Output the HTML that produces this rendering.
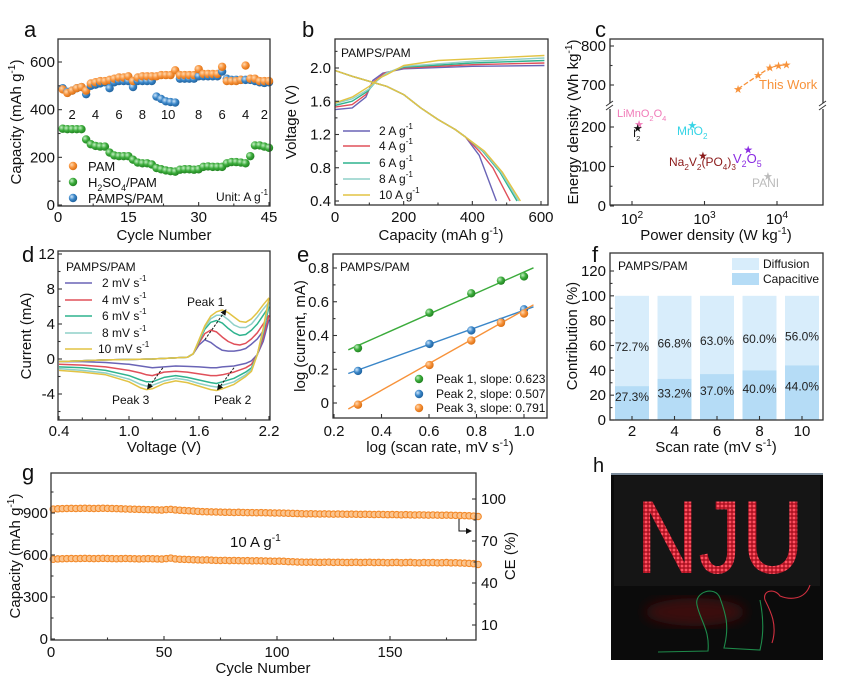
<!DOCTYPE html>
<html><head><meta charset="utf-8">
<style>
html,body{margin:0;padding:0;background:#fff;}
svg{display:block;font-family:"Liberation Sans",Arial,sans-serif;}
</style></head>
<body>
<svg id="fig" width="846" height="685" viewBox="0 0 846 685" xmlns="http://www.w3.org/2000/svg">
<defs>
<radialGradient id="gO" cx="0.35" cy="0.35" r="0.7"><stop offset="0" stop-color="#ffd9b0"/><stop offset="0.5" stop-color="#f7923a"/><stop offset="1" stop-color="#d86d10"/></radialGradient>
<radialGradient id="gG" cx="0.35" cy="0.35" r="0.7"><stop offset="0" stop-color="#c4f0c4"/><stop offset="0.5" stop-color="#3bab3b"/><stop offset="1" stop-color="#1f7f1f"/></radialGradient>
<radialGradient id="gB" cx="0.35" cy="0.35" r="0.7"><stop offset="0" stop-color="#cfe6fa"/><stop offset="0.5" stop-color="#3a86c8"/><stop offset="1" stop-color="#1d5e99"/></radialGradient>
<marker id="arr" markerWidth="6" markerHeight="6" refX="5" refY="3" orient="auto"><path d="M0,0 L6,3 L0,6 z" fill="#111"/></marker>
<filter id="blur"><feGaussianBlur stdDeviation="6"/></filter>
<pattern id="led" width="4" height="4" patternUnits="userSpaceOnUse"><rect width="4" height="4" fill="#b01424"/><circle cx="2" cy="2" r="1.4" fill="#ff5060"/></pattern>
</defs>
</svg>
<script>
// ---------- DATA ----------
const aCycles = Array.from({length:45},(_,i)=>i+1);
const aPAM = [485,470,480,490,495,480,510,515,520,520,525,530,535,535,540,520,535,540,540,540,540,545,545,545,565,545,545,545,545,570,550,550,550,550,580,520,520,520,525,585,530,530,520,520,520];
const aPAMPS = [490,475,480,490,495,465,500,505,510,515,490,515,520,520,520,495,520,520,520,520,455,445,435,432,430,530,530,530,530,540,540,540,540,540,560,530,525,525,525,525,525,520,515,512,515];
const aH2SO4 = [320,318,318,318,318,275,255,248,245,245,220,208,205,205,205,190,178,175,175,170,155,150,145,142,140,148,150,150,148,150,160,162,160,160,160,175,180,180,178,175,205,250,250,245,240];
const aRateLabels = ["2","4","6","8","10","8","6","4","2"];
const aRateCycles = [3,8,13,18,23.5,30,35,40,44];
const bRates = ["2","4","6","8","10"];
const bChargeCap = [[0,50,90,110,140,200,400,610],[0,50,90,115,145,200,400,610],[0,50,95,120,150,200,400,610],[0,50,100,125,150,200,400,610],[0,50,100,130,150,200,300,610]];
const bChargeV = [[1.50,1.52,1.65,1.85,1.94,1.99,2.02,2.03],[1.53,1.56,1.68,1.84,1.94,2.00,2.04,2.06],[1.55,1.60,1.72,1.84,1.94,2.01,2.06,2.09],[1.57,1.63,1.75,1.86,1.94,2.02,2.08,2.12],[1.58,1.65,1.78,1.88,1.92,2.03,2.09,2.15]];
const bDisCap = [[0,50,100,150,200,250,300,350,380,420,470],[0,50,100,150,200,250,300,350,380,420,460,510],[0,50,100,150,200,250,300,350,380,430,480,530],[0,50,100,150,200,250,300,350,380,432,483,535],[0,50,100,150,200,250,300,350,380,435,487,540]];
const bDisV = [[1.97,1.9,1.84,1.78,1.68,1.52,1.38,1.26,1.17,0.95,0.4],[1.97,1.9,1.84,1.78,1.68,1.52,1.38,1.26,1.17,1.0,0.8,0.4],[1.97,1.9,1.84,1.78,1.68,1.52,1.38,1.26,1.17,1.0,0.75,0.4],[1.97,1.9,1.84,1.78,1.68,1.52,1.38,1.26,1.17,1.0,0.75,0.4],[1.97,1.9,1.84,1.78,1.68,1.52,1.38,1.26,1.17,1.0,0.75,0.4]];
const cWorkP = [2900,5500,8000,10500,13500];
const cWorkE = [690,725,745,750,752];
const cRefNames = ["LiMnO2O4","I2","MnO2","Na2V2(PO4)3","V2O5","PANI"];
const cRefP = [125,120,680,950,4000,7500];
const cRefE = [207,197,205,128,143,75];
const dVup = [0.4,0.8,1.2,1.5,1.55,1.6,1.65,1.7,1.75,1.8,1.85,1.9,1.95,2.0,2.05,2.1,2.15,2.2];
const dIup = [
 [-0.3,-0.1,0,0.2,0.6,1.6,2.2,1.9,1.4,1.0,0.9,0.9,1.0,1.2,1.7,2.3,3.2,4.5],
 [-0.3,-0.1,0,0.2,0.6,1.8,2.9,3.3,3.1,2.5,2.0,1.7,1.6,1.8,2.3,3.0,4.0,5.0],
 [-0.3,-0.1,0,0.2,0.6,2.0,3.4,4.2,4.4,4.1,3.5,3.0,2.7,2.8,3.3,4.0,5.0,6.0],
 [-0.3,-0.1,0,0.2,0.6,2.1,3.6,4.6,5.0,5.0,4.5,3.9,3.6,3.6,4.0,4.8,5.7,6.5],
 [-0.3,-0.1,0,0.2,0.6,2.2,3.8,4.9,5.4,5.6,5.3,4.8,4.3,4.2,4.6,5.3,6.2,7.0]];
const dVdn = [2.2,2.15,2.1,2.05,2.0,1.9,1.8,1.75,1.7,1.6,1.5,1.4,1.3,1.2,1.15,1.1,1.0,0.8,0.6,0.4];
const dIdn = [
 [4.5,2.0,0.5,-0.2,-0.5,-0.8,-0.9,-1.0,-1.0,-0.9,-0.85,-0.8,-0.9,-1.0,-0.9,-0.8,-0.6,-0.4,-0.3,-0.3],
 [5.0,2.5,0.5,-0.6,-1.0,-1.5,-1.8,-1.9,-1.9,-1.7,-1.5,-1.4,-1.5,-1.9,-1.8,-1.6,-1.3,-0.9,-0.7,-0.6],
 [6.0,3.0,0.5,-1.0,-1.5,-2.2,-2.6,-2.8,-2.7,-2.4,-2.1,-1.9,-2.1,-2.6,-2.6,-2.4,-1.9,-1.3,-1.0,-0.9],
 [6.5,3.2,0.5,-1.2,-1.8,-2.6,-3.0,-3.2,-3.1,-2.8,-2.4,-2.2,-2.5,-3.0,-3.1,-2.9,-2.3,-1.6,-1.3,-1.1],
 [7.0,3.5,0.5,-1.4,-2.0,-2.9,-3.4,-3.6,-3.5,-3.1,-2.7,-2.5,-2.8,-3.4,-3.5,-3.3,-2.6,-1.8,-1.5,-1.3]];
const dRates = ["2","4","6","8","10"];
const eLogRate = [0.301,0.602,0.778,0.903,1.0];
const ePeak1 = [0.325,0.535,0.65,0.725,0.75];
const ePeak2 = [0.19,0.35,0.43,0.48,0.555];
const ePeak3 = [-0.01,0.225,0.37,0.475,0.53];
const eSlopes = [0.623,0.507,0.791];
const eIntercepts = [0.153,0.043,-0.241];
const fRates = ["2","4","6","8","10"];
const fCapacitive = [27.3,33.2,37.0,40.0,44.0];
const gCycles = Array.from({length:95},(_,i)=>1+2*i);
const gCapacity = [570,572,573,574,575,574,575,576,575,574,575,576,575,574,573,574,575,574,573,572,573,574,573,572,571,
574,578,572,570,569,568,566,565,564,565,563,562,561,562,560,561,560,559,560,558,559,558,557,556,555,
556,555,553,552,550,549,548,549,548,547,548,549,547,548,547,546,547,548,546,547,548,546,547,546,545,
546,547,545,546,547,545,544,546,545,546,544,545,546,544,545,543,542,540,538,532];
const gCE = [92.8,93,93.1,93.2,93.3,93.2,93.3,93.4,93.3,93.2,93.3,93.4,93.3,93.2,93.1,93.0,92.9,92.8,92.7,92.6,92.5,92.4,92.3,92.2,92.1,
92.4,92.6,92.2,92.0,91.8,91.6,91.4,91.2,91.0,90.9,90.8,90.7,90.6,90.5,90.5,90.4,90.5,90.4,90.3,90.3,90.2,90.3,90.2,90.1,90.0,
90.0,89.9,89.8,89.7,89.6,89.5,89.4,89.5,89.4,89.3,89.4,89.3,89.2,89.3,89.2,89.1,89.2,89.1,89.0,89.1,89.0,88.9,89.0,88.9,88.8,
88.9,88.8,88.7,88.8,88.7,88.6,88.7,88.6,88.5,88.6,88.5,88.4,88.5,88.4,88.3,88.2,88.1,88.0,87.8,87.5];

// ---------- HELPERS ----------
const svg = document.getElementById('fig');
const NS = 'http://www.w3.org/2000/svg';
function add(p, tag, at, name, inter){
  const el = document.createElementNS(NS, tag);
  for (const k in at) el.setAttribute(k, at[k]);
  
  
  p.appendChild(el);
  return el;
}
function txt(p, x, y, html, size, name, opt){
  opt = opt || {};
  const t = add(p, 'text', {x:x, y:y, 'font-size':size, fill:opt.fill||'#111', 'text-anchor':opt.anchor||'start'}, name);
  if (opt.rot) t.setAttribute('transform', 'rotate(-90 '+x+' '+y+')');
  t.innerHTML = html;
  return t;
}
const SUP = s => '<tspan baseline-shift="6" font-size="0.68em">'+s+'</tspan>';
const SUB = s => '<tspan baseline-shift="-4" font-size="0.68em">'+s+'</tspan>';
function frame(p, x0,y0,x1,y1, name){
  add(p,'rect',{x:x0,y:y0,width:x1-x0,height:y1-y0,fill:'none',stroke:'#333','stroke-width':1.3}, name);
}
function xtick(p, x, yb, len, name){ add(p,'line',{x1:x,y1:yb,x2:x,y2:yb-len,stroke:'#333','stroke-width':1.1}, name); }
function ytick(p, xl, y, len, name){ add(p,'line',{x1:xl,y1:y,x2:xl+len,y2:y,stroke:'#333','stroke-width':1.1}, name); }
function poly(p, xs, ys, fx, fy, stroke, w, name, extra){
  const d = xs.map((v,i)=>(i?'L':'M')+fx(v).toFixed(1)+','+fy(ys[i]).toFixed(1)).join(' ');
  const at = {d:d, fill:'none', stroke:stroke, 'stroke-width':w, 'stroke-linejoin':'round'};
  if (extra) for (const k in extra) at[k]=extra[k];
  return add(p,'path',at,name);
}
function ball(p, x, y, r, grad, name){ add(p,'circle',{cx:x,cy:y,r:r,fill:'url(#'+grad+')'}, name); }

// ---------- PANEL A ----------
(function(){
  const g = add(svg,'g',{},'panel-a');
  const xA = v => 58 + v/45*211, yA = v => 205 - v/600*143;
  txt(g, 24, 37, 'a', 22, 'panel-label-a');
  aCycles.forEach((c,i)=>{
    ball(g, xA(c), yA(aH2SO4[i]), 4.2, 'gG', 'point-h2so4');
    ball(g, xA(c), yA(aPAMPS[i]), 4.2, 'gB', 'point-pamps');
    ball(g, xA(c), yA(aPAM[i]), 4.2, 'gO', 'point-pam');
  });
  frame(g,58,39,270,206,'plot-frame-a');
  [0,15,30,45].forEach(v=>{ xtick(g,xA(v),206,4,'x-tick'); txt(g,xA(v),222,v,15,'x-tick-label',{anchor:'middle'}); });
  [7.5,22.5,37.5].forEach(v=>xtick(g,xA(v),206,2.5,'x-minor-tick'));
  [0,200,400,600].forEach(v=>{ ytick(g,58,yA(v),4,'y-tick'); txt(g,55,yA(v)+5,v,15,'y-tick-label',{anchor:'end'}); });
  [100,300,500].forEach(v=>ytick(g,58,yA(v),2.5,'y-minor-tick'));
  aRateLabels.forEach((s,i)=>txt(g,xA(aRateCycles[i]),119,s,13,'rate-label',{anchor:'middle'}));
  txt(g,21,122,'Capacity (mAh g'+SUP('-1')+')',15,'y-axis-title',{anchor:'middle',rot:1});
  txt(g,164,240,'Cycle Number',15,'x-axis-title',{anchor:'middle'});
  [['PAM','gO',166],['H'+SUB('2')+'SO'+SUB('4')+'/PAM','gG',182],['PAMPS/PAM','gB',198]].forEach(l=>{
    ball(g,73,l[2],4.2,l[1],'legend-marker');
    txt(g,88,l[2]+5,l[0],13,'legend-entry');
  });
  txt(g,268,201,'Unit: A g'+SUP('-1'),12,'unit-note',{anchor:'end'});
})();

// ---------- PANEL B ----------
(function(){
  const g = add(svg,'g',{},'panel-b');
  const xB = v => 335 + v/600*206, yB = v => 201 - (v-0.4)/1.6*133;
  const cols = ['#6a64b6','#e0505a','#2fb38e','#8fd0c8','#e2c344'];
  txt(g,302,37,'b',22,'panel-label-b');
  bRates.forEach((r,i)=>{
    poly(g,bChargeCap[i],bChargeV[i],xB,yB,cols[i],1.4,'charge-curve-'+r);
    poly(g,bDisCap[i],bDisV[i],xB,yB,cols[i],1.4,'discharge-curve-'+r);
  });
  frame(g,335,39,548,205,'plot-frame-b');
  [0,200,400,600].forEach(v=>{ xtick(g,xB(v),205,4,'x-tick'); txt(g,xB(v),222,v,15,'x-tick-label',{anchor:'middle'}); });
  [100,300,500].forEach(v=>xtick(g,xB(v),205,2.5,'x-minor-tick'));
  [0.4,0.8,1.2,1.6,2.0].forEach(v=>{ ytick(g,335,yB(v),4,'y-tick'); txt(g,331,yB(v)+5,v.toFixed(1),15,'y-tick-label',{anchor:'end'}); });
  [0.6,1.0,1.4,1.8,2.2].forEach(v=>ytick(g,335,yB(v),2.5,'y-minor-tick'));
  txt(g,341,57,'PAMPS/PAM',12,'series-title');
  [131,146,163,179,195].forEach((y,i)=>{
    add(g,'line',{x1:343,y1:y,x2:370,y2:y,stroke:cols[i],'stroke-width':1.6},'legend-line');
    txt(g,379,y+4,bRates[i]+' A g'+SUP('-1'),12,'legend-entry');
  });
  txt(g,296,122,'Voltage (V)',15,'y-axis-title',{anchor:'middle',rot:1});
  txt(g,441,240,'Capacity (mAh g'+SUP('-1')+')',15,'x-axis-title',{anchor:'middle'});
})();

// ---------- PANEL C ----------
(function(){
  const g = add(svg,'g',{},'panel-c');
  const xC = p => 632 + (Math.log10(p)-2)*72.5;
  const yC = e => e < 400 ? 206 - e/100*39.5 : 85 - (e-700)/100*39;
  txt(g,595,37,'c',22,'panel-label-c');
  frame(g,610,39,823,205,'plot-frame-c');
  [610,823].forEach(x=>{
    add(g,'rect',{x:x-4,y:103,width:8,height:6,fill:'#fff'},'axis-break-gap');
    add(g,'line',{x1:x-4,y1:106,x2:x+3,y2:101,stroke:'#333','stroke-width':1},'axis-break-mark');
    add(g,'line',{x1:x-4,y1:110,x2:x+3,y2:105,stroke:'#333','stroke-width':1},'axis-break-mark');
  });
  [2,3,4].forEach(d=>{ const x=xC(Math.pow(10,d)); xtick(g,x,205,4,'x-tick'); txt(g,x,224,'10'+SUP(String(d)),15,'x-tick-label',{anchor:'middle'}); });
  [0,100,200,700,800].forEach(v=>{ ytick(g,610,yC(v),4,'y-tick'); txt(g,606,yC(v)+5,v,15,'y-tick-label',{anchor:'end'}); });
  [50,150,750].forEach(v=>ytick(g,610,yC(v),2.5,'y-minor-tick'));
  const star = (x,y,col,s,name)=>txt(g,x,y+s*0.35,'★',s,name,{anchor:'middle',fill:col});
  poly(g,cWorkP,cWorkE,xC,yC,'#f7923a',1.3,'this-work-line',{'stroke-dasharray':'5 2'});
  cWorkP.forEach((p,i)=>star(xC(p),yC(cWorkE[i]),'#f7923a',11,'this-work-point'));
  const refCols = ['#f07ab8','#111','#35d4e6','#8b1a1a','#8a2be2','#bbbbbb'];
  cRefP.forEach((p,i)=>star(xC(p),yC(cRefE[i]),refCols[i],11,'ref-point-'+i));
  txt(g,759,89,'This Work',13,'this-work-label',{fill:'#f7923a'});
  txt(g,617,117,'LiMnO'+SUB('2')+'O'+SUB('4'),11,'label-limno',{fill:'#f07ab8'});
  txt(g,633,137,'I'+SUB('2'),11,'label-i2');
  txt(g,677,135,'MnO'+SUB('2'),12,'label-mno2',{fill:'#35d4e6'});
  txt(g,669,166,'Na'+SUB('2')+'V'+SUB('2')+'(PO'+SUB('4')+')'+SUB('3'),12,'label-nvp',{fill:'#8b1a1a'});
  txt(g,733,163,'V'+SUB('2')+'O'+SUB('5'),13,'label-v2o5',{fill:'#8a2be2'});
  txt(g,752,187,'PANI',12,'label-pani',{fill:'#bbbbbb'});
  txt(g,578,122,'Energy density (Wh kg'+SUP('-1')+')',15,'y-axis-title',{anchor:'middle',rot:1});
  txt(g,716,240,'Power density (W kg'+SUP('-1')+')',15,'x-axis-title',{anchor:'middle'});
})();

// ---------- PANEL D ----------
(function(){
  const g = add(svg,'g',{},'panel-d');
  const xD = v => 59 + (v-0.4)/1.8*210, yD = v => 359 - v/4*35;
  const cols = ['#6a64b6','#e0505a','#2fb38e','#8fd0c8','#e2c344'];
  txt(g,22,262,'d',22,'panel-label-d');
  dRates.forEach((r,i)=>{
    poly(g,dVup,dIup[i],xD,yD,cols[i],1.5,'cv-forward-'+r);
    poly(g,dVdn,dIdn[i],xD,yD,cols[i],1.5,'cv-reverse-'+r);
  });
  frame(g,58,251,270,420,'plot-frame-d');
  [0.4,1.0,1.6,2.2].forEach(v=>{ xtick(g,xD(v),420,4,'x-tick'); txt(g,xD(v),436,v.toFixed(1),15,'x-tick-label',{anchor:'middle'}); });
  [0.6,0.8,1.2,1.4,1.8,2.0].forEach(v=>xtick(g,xD(v),420,2.5,'x-minor-tick'));
  [-4,0,4,8,12].forEach(v=>{ ytick(g,58,yD(v),4,'y-tick'); txt(g,55,yD(v)+5,v,15,'y-tick-label',{anchor:'end'}); });
  [-6,-2,2,6,10].forEach(v=>ytick(g,58,yD(v),2.5,'y-minor-tick'));
  txt(g,66,271,'PAMPS/PAM',12,'series-title');
  [283,300,316,333,349].forEach((y,i)=>{
    add(g,'line',{x1:65,y1:y,x2:92,y2:y,stroke:cols[i],'stroke-width':1.6},'legend-line');
    txt(g,i===4?98:102,y+4,dRates[i]+' mV s'+SUP('-1'),12,'legend-entry');
  });
  const arrow=(v1,i1,v2,i2,name)=>add(g,'line',{x1:xD(v1),y1:yD(i1),x2:xD(v2),y2:yD(i2),stroke:'#111','stroke-width':1,'stroke-dasharray':'2.5 1.5','marker-end':'url(#arr)'},name);
  arrow(1.65,2.2,1.83,5.6,'peak1-arrow');
  arrow(1.9,-1.0,1.76,-3.5,'peak2-arrow');
  arrow(1.29,-1.0,1.16,-3.4,'peak3-arrow');
  txt(g,187,306,'Peak 1',12,'peak1-label');
  txt(g,112,404,'Peak 3',12,'peak3-label');
  txt(g,214,404,'Peak 2',12,'peak2-label');
  txt(g,31,336,'Current (mA)',15,'y-axis-title',{anchor:'middle',rot:1});
  txt(g,164,452,'Voltage (V)',15,'x-axis-title',{anchor:'middle'});
})();

// ---------- PANEL E ----------
(function(){
  const g = add(svg,'g',{},'panel-e');
  const xE = v => 334 + (v-0.2)/0.2*47.5, yE = v => 403 - v/0.8*135;
  const cols = ['#3bab3b','#3a86c8','#f7923a'];
  const grads = ['gG','gB','gO'];
  txt(g,297,262,'e',22,'panel-label-e');
  const peaks = [ePeak1,ePeak2,ePeak3];
  peaks.forEach((pk,k)=>{
    const xs=[0.26,1.04];
    const ys=xs.map(x=>eSlopes[k]*x+eIntercepts[k]);
    poly(g,xs,ys,xE,yE,cols[k],1.4,'fit-line-peak'+(k+1));
    pk.forEach((v,i)=>ball(g,xE(eLogRate[i]),yE(v),4.2,grads[k],'point-peak'+(k+1)));
  });
  frame(g,333,254,547,418,'plot-frame-e');
  [0.2,0.4,0.6,0.8,1.0].forEach(v=>{ xtick(g,xE(v),418,4,'x-tick'); txt(g,xE(v),436,v.toFixed(1),15,'x-tick-label',{anchor:'middle'}); });
  [0,0.2,0.4,0.6,0.8].forEach(v=>{ ytick(g,333,yE(v),4,'y-tick'); txt(g,329,yE(v)+5,v===0?'0':v.toFixed(1),15,'y-tick-label',{anchor:'end'}); });
  [0.1,0.3,0.5,0.7].forEach(v=>ytick(g,333,yE(v),2.5,'y-minor-tick'));
  txt(g,340,271,'PAMPS/PAM',12,'series-title');
  [379,394,408].forEach((y,k)=>{
    ball(g,419,y,4.2,grads[k],'legend-marker');
    txt(g,436,y+4,'Peak '+(k+1)+', slope: '+eSlopes[k].toFixed(3),12,'legend-entry');
  });
  txt(g,305,336,'log (current, mA)',15,'y-axis-title',{anchor:'middle',rot:1});
  txt(g,440,452,'log (scan rate, mV s'+SUP('-1')+')',15,'x-axis-title',{anchor:'middle'});
})();

// ---------- PANEL F ----------
(function(){
  const g = add(svg,'g',{},'panel-f');
  const xF = i => 632 + i*42.5, yF = v => 420 - v/120*149;
  txt(g,592,262,'f',22,'panel-label-f');
  fRates.forEach((r,i)=>{
    const c = fCapacitive[i], d = 100-c, x = xF(i);
    add(g,'rect',{x:x-17,y:yF(100),width:34,height:yF(c)-yF(100),fill:'#d8edfb'},'bar-diffusion-'+r);
    add(g,'rect',{x:x-17,y:yF(c),width:34,height:yF(0)-yF(c),fill:'#b5dcf6'},'bar-capacitive-'+r);
    txt(g,x,yF(c+d/2)+10,d.toFixed(1)+'%',12,'value-diffusion',{anchor:'middle',fill:'#222'});
    txt(g,x,yF(c/2)-2,c.toFixed(1)+'%',12,'value-capacitive',{anchor:'middle',fill:'#222'});
    xtick(g,x,420,4,'x-tick');
    txt(g,x,436,r,15,'x-tick-label',{anchor:'middle'});
  });
  frame(g,610,253,823,420,'plot-frame-f');
  [0,20,40,60,80,100,120].forEach(v=>{ ytick(g,610,yF(v),4,'y-tick'); txt(g,606,yF(v)+5,v,15,'y-tick-label',{anchor:'end'}); });
  [10,30,50,70,90,110].forEach(v=>ytick(g,610,yF(v),2.5,'y-minor-tick'));
  txt(g,618,270,'PAMPS/PAM',12,'series-title');
  add(g,'rect',{x:732,y:258,width:27,height:12,fill:'#d8edfb'},'legend-swatch-diffusion');
  add(g,'rect',{x:732,y:273,width:27,height:12,fill:'#b5dcf6'},'legend-swatch-capacitive');
  txt(g,763,268,'Diffusion',12,'legend-entry');
  txt(g,763,283,'Capacitive',12,'legend-entry');
  txt(g,577,336,'Contribution (%)',15,'y-axis-title',{anchor:'middle',rot:1});
  txt(g,716,452,'Scan rate (mV s'+SUP('-1')+')',15,'x-axis-title',{anchor:'middle'});
})();

// ---------- PANEL G ----------
(function(){
  const g = add(svg,'g',{},'panel-g');
  const xG = v => 51 + v/150*339, yG = v => 639 - v/300*42, yCE = v => 499 + (100-v)/30*42;
  txt(g,22,480,'g',22,'panel-label-g');
  gCycles.forEach((c,i)=>{
    add(g,'circle',{cx:xG(c),cy:yG(gCapacity[i]),r:3.2,fill:'#fbc48e',stroke:'#f38a2a','stroke-width':1.1},'capacity-point');
    add(g,'circle',{cx:xG(c),cy:yCE(gCE[i]),r:3.2,fill:'#fbc48e',stroke:'#f38a2a','stroke-width':1.1},'ce-point');
  });
  frame(g,51,473,476,640,'plot-frame-g');
  [0,50,100,150].forEach(v=>{ xtick(g,xG(v),640,4,'x-tick'); txt(g,xG(v),657,v,15,'x-tick-label',{anchor:'middle'}); });
  [25,75,125,175].forEach(v=>xtick(g,xG(v),640,2.5,'x-minor-tick'));
  [0,300,600,900].forEach(v=>{ ytick(g,51,yG(v),4,'y-tick'); txt(g,48,yG(v)+5,v,15,'y-tick-label',{anchor:'end'}); });
  [150,450,750,1050].forEach(v=>ytick(g,51,yG(v),2.5,'y-minor-tick'));
  [10,40,70,100].forEach(v=>{ ytick(g,476,yCE(v),-4,'right-y-tick'); txt(g,481,yCE(v)+5,v,15,'right-y-tick-label'); });
  [25,55,85].forEach(v=>ytick(g,476,yCE(v),-2.5,'right-y-minor-tick'));
  txt(g,230,547,'10 A g'+SUP('-1'),15,'rate-annotation');
  add(g,'path',{d:'M459,519 L459,531 L471,531',fill:'none',stroke:'#111','stroke-width':1,'marker-end':'url(#arr)'},'ce-axis-arrow');
  txt(g,20,556,'Capacity (mAh g'+SUP('-1')+')',15,'y-axis-title',{anchor:'middle',rot:1});
  txt(g,515,556,'CE (%)',15,'right-y-axis-title',{anchor:'middle',rot:1});
  txt(g,263,673,'Cycle Number',15,'x-axis-title',{anchor:'middle'});
})();

// ---------- PANEL H (photo) ----------
(function(){
  const g = add(svg,'g',{},'panel-h');
  txt(g,593,472,'h',20,'panel-label-h');
  add(g,'rect',{x:611,y:473,width:212,height:187,fill:'#0b0b0b'},'photo-background');
  add(g,'rect',{x:611,y:473,width:212,height:2,fill:'#7a8a9a'},'photo-top-edge');
  add(g,'rect',{x:614,y:476,width:206,height:110,fill:'#151515'},'sign-board');
  add(g,'ellipse',{cx:695,cy:612,rx:50,ry:14,fill:'#3a080c',filter:'url(#blur)'},'reflection-glow');
  const t = add(g,'text',{x:636,y:573,'font-size':104,fill:'url(#led)',textLength:168,lengthAdjust:'spacingAndGlyphs'},'nju-led-letters');
  t.textContent = 'NJU';
  add(g,'path',{d:'M658,652 L708,651 C710,630 700,620 697,605 C694,592 715,585 720,598 C725,612 730,625 724,648 L760,650 C765,630 762,610 760,600',fill:'none',stroke:'#1e8a4a','stroke-width':1.1},'green-wire');
  add(g,'path',{d:'M772,643 C778,625 770,610 765,600 C762,590 775,588 780,596 C790,600 805,600 810,585',fill:'none',stroke:'#d23040','stroke-width':1.1},'red-wire');
})();
</script>
</body></html>
